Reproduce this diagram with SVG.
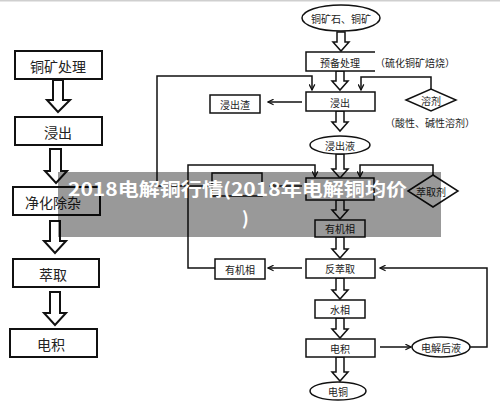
<svg xmlns="http://www.w3.org/2000/svg" width="500" height="410" viewBox="0 0 500 410">
<defs>
<marker id="ah" viewBox="0 0 10 10" refX="9" refY="5" markerWidth="7" markerHeight="7" orient="auto" markerUnits="userSpaceOnUse">
<path d="M1,1 L9,5 L1,9" fill="none" stroke="#111" stroke-width="1.8"/>
</marker>
<style>
.bx{fill:#fff;stroke:#111;stroke-width:1.5}
.bl{fill:#fff;stroke:#111;stroke-width:2}
.ha{fill:#fff;stroke:#111;stroke-width:1.5;stroke-linejoin:miter}
.hb{fill:#fff;stroke:#111;stroke-width:2;stroke-linejoin:miter}
.ln{fill:none;stroke:#111;stroke-width:1.5}
.t{font-family:"Noto Sans CJK SC","Noto Sans",sans-serif;fill:#222;text-anchor:middle;dominant-baseline:central}
.s{font-size:10px}
.m{font-size:14px}
</style>
</defs>
<rect width="500" height="410" fill="#fff"/>
<line x1="0" y1="0.8" x2="500" y2="0.8" stroke="#cfcfcf" stroke-width="1.5"/>

<g id="connectors">
<!-- left column hollow arrows -->
<path class="hb" d="M53,80 V100 H47 L58,112 L70,100 H63 V80 Z"/>
<path class="hb" d="M50,149 V171 H45 L56,183 L67,171 H61 V149 Z"/>
<path class="hb" d="M50,221 V241 H44 L55,253 L66,241 H60 V221 Z"/>
<path class="hb" d="M50,292 V313 H44 L55,325 L66,313 H60 V292 Z"/>
<!-- right column hollow arrows -->
<path class="ha" d="M337,32 V42 H333 L341,51 L349,42 H345 V32 Z"/>
<path class="ha" d="M336,71 V81 H332 L340,90 L348,81 H344 V71 Z"/>
<path class="ha" d="M336,111 V122 H332 L340,131 L348,122 H344 V111 Z"/>
<path class="ha" d="M336,154 V169 H332 L340,178 L348,169 H344 V154 Z"/>
<path class="ha" d="M336,200 V210 H332 L340,219 L348,210 H344 V200 Z"/>
<path class="ha" d="M336,237 V249 H332 L340,258 L348,249 H344 V237 Z"/>
<path class="ha" d="M336,278 V290 H332 L340,299 L348,290 H344 V278 Z"/>
<path class="ha" d="M336,318 V329 H332 L340,338 L348,329 H344 V318 Z"/>
<path class="ha" d="M336,357 V372 H332 L340,381 L348,372 H344 V357 Z"/>
<!-- line connectors -->
<path class="ln" d="M212,186 H157 V76 H312 V90" marker-end="url(#ah)"/>
<path class="ln" d="M431,89 V77 H361 V90" marker-end="url(#ah)"/>
<path class="ln" d="M302,102 H268" marker-end="url(#ah)"/>
<path class="ln" d="M215,268 H188 V165 H315 V177" marker-end="url(#ah)"/>
<path class="ln" d="M433,175 V165 H360 V177" marker-end="url(#ah)"/>
<path class="ln" d="M302,186 H270" marker-end="url(#ah)"/>
<path class="ln" d="M302,268 H268" marker-end="url(#ah)"/>
<path class="ln" d="M380,347 H411" marker-end="url(#ah)"/>
<path class="ln" d="M470,347 H487 V268 H380" marker-end="url(#ah)"/>
</g>

<g id="n-l1"><rect class="bl" x="15" y="51" width="87" height="28"/><text class="t m" x="58" y="65.5">铜矿处理</text></g>
<g id="n-l2"><rect class="bl" x="15" y="117" width="87" height="28"/><text class="t m" x="58" y="131.5">浸出</text></g>
<g id="n-l3"><rect class="bl" x="13" y="187" width="87" height="28"/><text class="t m" x="53" y="201.5">净化除杂</text></g>
<g id="n-l4"><rect class="bl" x="13" y="259" width="86" height="28"/><text class="t m" x="53" y="273.5">萃取</text></g>
<g id="n-l5"><rect class="bl" x="10" y="329" width="87" height="28"/><text class="t m" x="51" y="343.5">电积</text></g>

<g id="n-ore"><ellipse class="bx" cx="341" cy="18" rx="39" ry="13"/><text class="t s" x="341" y="18">铜矿石、铜矿</text></g>
<g id="n-pre"><rect fill="#fff" x="306" y="52" width="69" height="19"/><path class="ln" d="M375,52 H306 V71 H375"/><text class="t s" x="340" y="62">预备处理</text><text class="t s" x="415" y="62">（硫化铜矿焙烧）</text></g>
<g id="n-leach"><rect class="bx" x="306" y="92" width="69" height="19"/><text class="t s" x="340" y="102">浸出</text></g>
<g id="n-slag"><rect class="bx" x="210" y="95" width="50" height="18"/><text class="t s" x="235" y="104.5">浸出渣</text></g>
<g id="n-solv"><path class="bx" d="M406,100 L431,89 L456,100 L431,111 Z"/><text class="t s" x="431" y="100">溶剂</text><text class="t s" x="430" y="122">（酸性、碱性溶剂）</text></g>
<g id="n-liq"><ellipse class="bx" cx="340" cy="145" rx="30" ry="9"/><text class="t s" x="340" y="145">浸出液</text></g>
<g id="n-raff"><rect class="bx" x="212" y="173" width="50" height="23"/></g>
<g id="n-ext"><rect class="bx" x="306" y="178" width="68" height="22"/></g>
<g id="n-ag"><path class="bx" d="M408,191 L433,175 L458,191 L433,207 Z"/><text class="t s" x="431" y="191">萃取剂</text></g>
<g id="n-org"><rect class="bx" x="315" y="220" width="50" height="17"/><text class="t s" x="340" y="228.5">有机相</text></g>
<g id="n-strip"><rect class="bx" x="306" y="259" width="69" height="19"/><text class="t s" x="340" y="268.5">反萃取</text></g>
<g id="n-org2"><rect class="bx" x="215" y="259" width="50" height="20"/><text class="t s" x="240" y="269">有机相</text></g>
<g id="n-aq"><rect class="bx" x="315" y="300" width="50" height="18"/><text class="t s" x="340" y="309">水相</text></g>
<g id="n-ew"><rect class="bx" x="306" y="339" width="69" height="18"/><text class="t s" x="340" y="348">电积</text></g>
<g id="n-spent"><ellipse class="bx" cx="441" cy="347" rx="29" ry="10"/><text class="t s" x="441" y="347">电解后液</text></g>
<g id="n-cu"><ellipse class="bx" cx="338" cy="391" rx="28" ry="9"/><text class="t s" x="338" y="391">电铜</text></g>

<g id="overlay">
<rect x="58" y="172" width="383" height="65" fill="#000" fill-opacity="0.4"/>
<text x="68" y="196" font-family="Noto Sans CJK SC,Noto Sans,sans-serif" font-weight="bold" font-size="18" fill="#fff" textLength="339" lengthAdjust="spacingAndGlyphs">2018电解铜行情(2018年电解铜均价</text>
<text x="242" y="225" font-family="Noto Sans CJK SC,Noto Sans,sans-serif" font-weight="bold" font-size="18" fill="#fff">)</text>
</g>
</svg>
